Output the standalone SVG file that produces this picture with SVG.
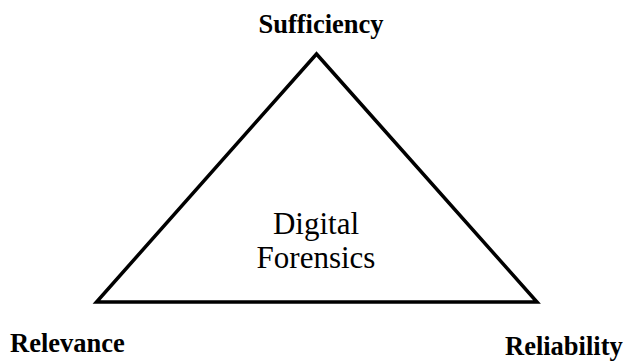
<svg xmlns="http://www.w3.org/2000/svg" width="626" height="361" viewBox="0 0 626 361">
<style>
.lbl{font-family:"Liberation Serif","Times New Roman",serif;font-weight:bold;font-size:26.5px;fill:#000}
.ctr{font-family:"Liberation Serif","Times New Roman",serif;font-size:31px;fill:#000}
.tri{fill:none;stroke:#000;stroke-width:3.5;stroke-linejoin:miter}
</style>
<rect width="626" height="361" fill="#fff"/>
<g id="triangle">
<polygon class="tri" points="316.5,54 96.5,302 537,302"/>
<text class="ctr" x="316" y="234" text-anchor="middle">Digital</text>
<text class="ctr" x="316" y="268" text-anchor="middle">Forensics</text>
</g>
<g id="sufficiency"><text class="lbl" x="321" y="33" text-anchor="middle">Sufficiency</text></g>
<g id="relevance"><text class="lbl" x="10" y="352">Relevance</text></g>
<g id="reliability"><text class="lbl" x="505" y="354.5">Reliability</text></g>
<g id="connectors"></g>
</svg>
